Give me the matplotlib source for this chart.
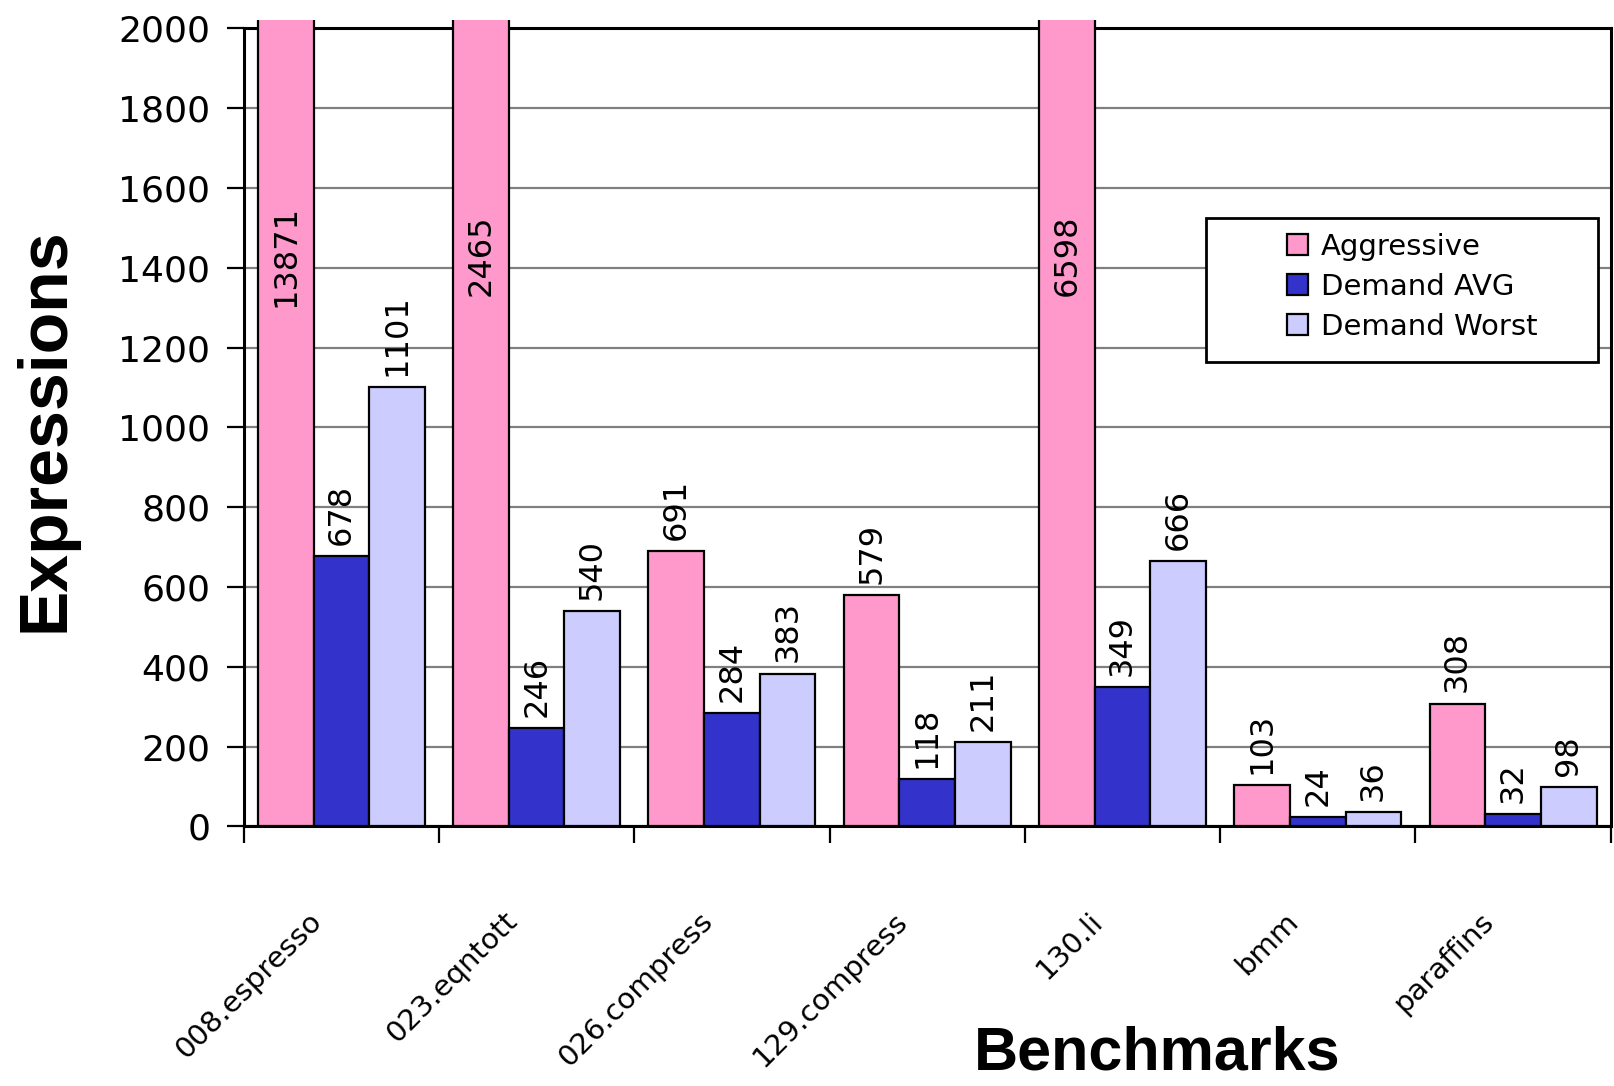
import matplotlib
matplotlib.use("Agg")
import matplotlib.pyplot as plt
import numpy as np
from matplotlib.patches import Rectangle
from matplotlib.transforms import Bbox, TransformedBbox, ScaledTranslation

plt.rcParams['font.family'] = ['DejaVu Sans']

# data
benchmarks = ['008.espresso', '023.eqntott', '026.compress', '129.compress',
              '130.li', 'bmm', 'paraffins']
aggressive = [13871, 2465, 691, 579, 6598, 103, 308]
demand_avg = [678, 246, 284, 118, 349, 24, 32]
demand_worst = [1101, 540, 383, 211, 666, 36, 98]
series = ['Aggressive', 'Demand AVG', 'Demand Worst']
colors = ['#FF99CC', '#3333CC', '#CCCCFF']
ymax = 2000

fig = plt.figure(figsize=(16.14, 10.86), dpi=100)
ax = fig.add_axes([0.151, 0.239, 0.847, 0.735])

x = np.arange(len(benchmarks))
w = 0.285
clip = TransformedBbox(Bbox([[0, 0], [1, 1.01]]), ax.transAxes)

for k, (vals, col, name) in enumerate(zip([aggressive, demand_avg, demand_worst], colors, series)):
    bars = ax.bar(x + (k - 1) * w, vals, width=w, color=col, edgecolor='black',
                  linewidth=1.6, label=name, zorder=3)
    for b, v in zip(bars, vals):
        b.set_clip_box(clip)
        cx = b.get_x() + b.get_width() / 2
        if v > ymax:
            ax.text(cx, 1430, str(v), rotation=90, ha='center', va='center',
                    fontsize=23, zorder=4)
        else:
            ax.annotate(str(v), (cx, v), xytext=(0, 8), textcoords='offset points',
                        rotation=90, ha='center', va='bottom', fontsize=23, zorder=4)

ax.set_xlim(-0.5, len(benchmarks) - 0.5)
ax.set_ylim(0, ymax)
ax.set_yticks(np.arange(0, ymax + 1, 200))
ax.tick_params(axis='y', labelsize=26, length=12, width=1.6, direction='out', pad=12)
ax.yaxis.grid(True, color='#808080', linewidth=1.6)
ax.set_axisbelow(True)

# group boundaries as ticks, names rotated under each group
ax.set_xticks(np.arange(-0.5, len(benchmarks)), minor=True)
ax.set_xticks(x)
ax.set_xticklabels(benchmarks, rotation=45, ha='right', fontsize=21)
ax.tick_params(axis='x', which='minor', length=12, width=1.6, direction='out')
ax.tick_params(axis='x', which='major', length=0, pad=58)
shift = ScaledTranslation(-10 / 72, 0, fig.dpi_scale_trans)
for lab in ax.get_xticklabels():
    lab.set_transform(lab.get_transform() + shift)

for s in ax.spines.values():
    s.set_linewidth(2.2)
    s.set_color('black')

fig.text(0.028, 0.604, 'Expressions', rotation=90, ha='center', va='center',
         fontsize=49, fontweight='bold', family='Liberation Sans')
fig.text(0.717, 0.003, 'Benchmarks', ha='center', va='bottom',
         fontsize=44, fontweight='bold', family='Liberation Sans')

# legend box
ax.add_patch(Rectangle((0.704, 0.582), 0.287, 0.18, transform=ax.transAxes,
                       facecolor='white', edgecolor='black', linewidth=2, zorder=5))
ax.legend(loc='upper left', bbox_to_anchor=(0.763, 0.744), frameon=False,
          fontsize=21, handlelength=0.72, handleheight=0.72, handletextpad=0.45,
          labelspacing=0.42, borderpad=0, borderaxespad=0).set_zorder(6)

fig.savefig('out.png', dpi=100)
